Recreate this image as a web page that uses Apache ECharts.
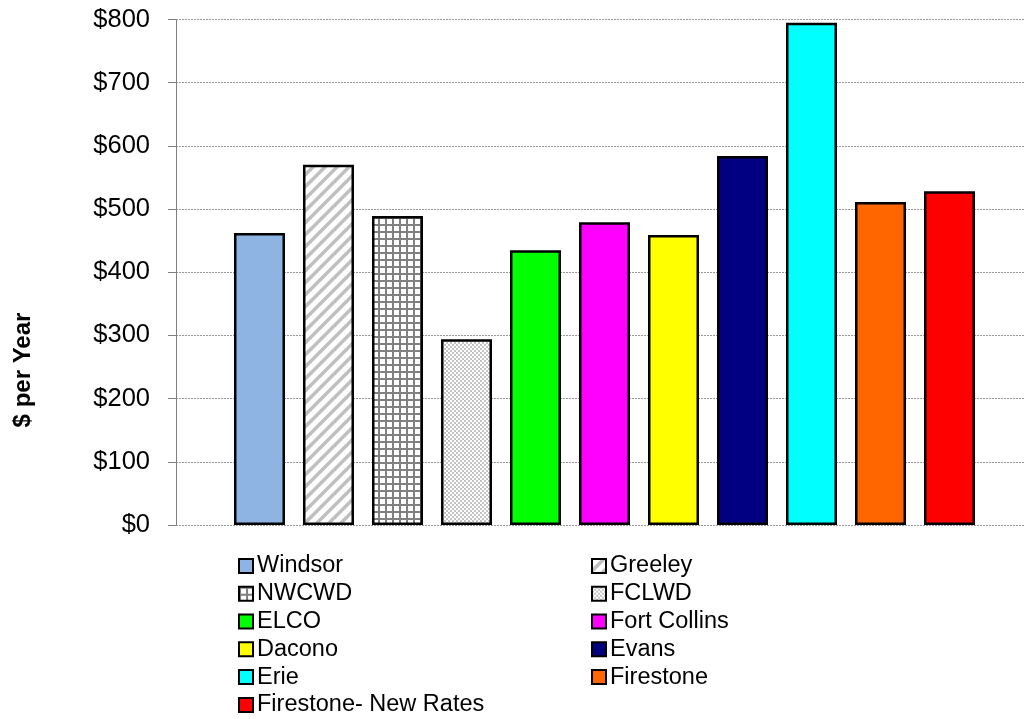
<!DOCTYPE html>
<html>
<head>
<meta charset="utf-8">
<script src="https://cdn.jsdelivr.net/npm/echarts@6/dist/echarts.min.js"></script>
<style>
html,body{margin:0;padding:0;background:#fff;overflow:hidden;}
#chart{width:1041px;height:719px;}
</style>
</head>
<body>
<div id="chart"></div>
<script>
// ---- data ----
const utilities = ['Windsor','Greeley','NWCWD','FCLWD','ELCO','Fort Collins','Dacono','Evans','Erie','Firestone','Firestone- New Rates'];
const costPerYear = [462, 570, 489, 294, 435, 479, 459, 584, 795, 511, 528];
const legendLeftColumn = ['Windsor','NWCWD','ELCO','Dacono','Erie','Firestone- New Rates'];
const legendRightColumn = ['Greeley','FCLWD','Fort Collins','Evans','Firestone'];
const yTicks = [0, 100, 200, 300, 400, 500, 600, 700, 800];

// ---- patterns ----
function stripePattern(){
  const c = document.createElement('canvas'); c.width = 12; c.height = 12;
  const g = c.getContext('2d');
  g.fillStyle = '#fff'; g.fillRect(0,0,12,12);
  g.strokeStyle = '#c0c0c0'; g.lineWidth = 3.6;
  const segs = [[0,12,12,0],[-6,6,6,-6],[6,18,18,6]];
  segs.forEach(s=>{g.beginPath();g.moveTo(s[0],s[1]);g.lineTo(s[2],s[3]);g.stroke();});
  return {image:c, repeat:'repeat'};
}
function gridPattern(){
  const c = document.createElement('canvas'); c.width = 7; c.height = 7;
  const g = c.getContext('2d');
  g.fillStyle = '#fff'; g.fillRect(0,0,7,7);
  g.fillStyle = '#808080';
  g.fillRect(0,0,7,2); g.fillRect(0,0,2,7);
  return {image:c, repeat:'repeat'};
}
function checkerPattern(){
  const c = document.createElement('canvas'); c.width = 4; c.height = 4;
  const g = c.getContext('2d');
  g.fillStyle = '#fff'; g.fillRect(0,0,4,4);
  g.fillStyle = '#c4c4c4';
  g.fillRect(0,0,2,2); g.fillRect(2,2,2,2);
  return {image:c, repeat:'repeat'};
}

const fills = {
  'Windsor':'#8EB4E3',
  'Greeley':stripePattern(),
  'NWCWD':gridPattern(),
  'FCLWD':checkerPattern(),
  'ELCO':'#00FF00',
  'Fort Collins':'#FF00FF',
  'Dacono':'#FFFF00',
  'Evans':'#000080',
  'Erie':'#00FFFF',
  'Firestone':'#FF6600',
  'Firestone- New Rates':'#FF0000'
};

const FONT = '"Liberation Sans", Arial, sans-serif';

const series = utilities.map((name,i)=>({
  name: name,
  type: 'bar',
  data: [costPerYear[i]],
  barWidth: 51,
  barGap: '35.3%',
  itemStyle: {color: fills[name], borderColor:'#000', borderWidth:2.5},
  emphasis: {disabled:true}
}));

const legendCommon = {
  orient:'vertical',
  padding:0,
  height:200,
  itemWidth:14, itemHeight:14, itemGap:0,
  icon:'rect',
  itemStyle:{borderColor:'#000', borderWidth:2},
  textStyle:{fontFamily:FONT, fontSize:23.5, color:'#000', lineHeight:27.8, padding:[0,0,0,-1]},
  selectedMode:false
};

const chart = echarts.init(document.getElementById('chart'), null, {renderer:'canvas'});
chart.setOption({
  animation:false,
  backgroundColor:'#fff',
  grid:{left:176, right:8, top:19.5, bottom:194, containLabel:false},
  xAxis:{
    type:'category', data:[''],
    axisLine:{show:false}, axisTick:{show:false}, axisLabel:{show:false}
  },
  yAxis:{
    type:'value', min:yTicks[0], max:yTicks[yTicks.length-1], interval:100,
    axisLine:{show:true, lineStyle:{color:'#808080', width:1}},
    axisTick:{show:true, inside:false, length:8, lineStyle:{color:'#808080'}},
    axisLabel:{formatter:v=>'$'+v, fontFamily:FONT, fontSize:25.5, color:'#000', margin:26},
    splitLine:{show:true, lineStyle:{color:'#999', type:[2,1], width:1}}
  },
  legend:[
    Object.assign({}, legendCommon, {left:238, top:552, data:legendLeftColumn}),
    Object.assign({}, legendCommon, {left:591, top:552, data:legendRightColumn})
  ],
  graphic:[{
    type:'text', x:23, y:370, rotation:Math.PI/2,
    style:{text:'$ per Year', fontFamily:FONT, fontSize:24, fontWeight:'bold', fill:'#000', align:'center', verticalAlign:'middle'}
  }],
  series: series
});
</script>
</body>
</html>
